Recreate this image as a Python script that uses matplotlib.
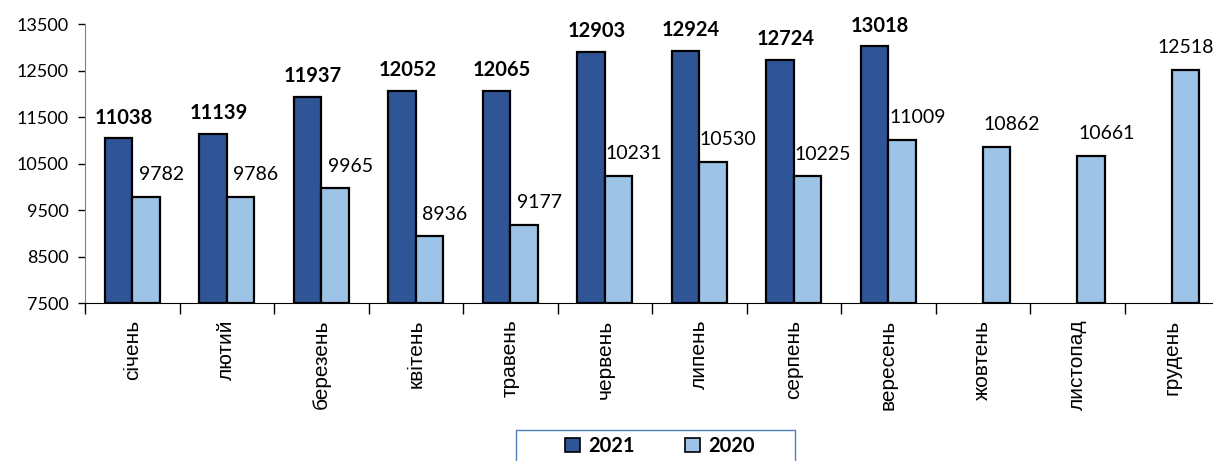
import numpy as np
import matplotlib.pyplot as plt
from matplotlib.patches import Patch, Rectangle

months = ["січень", "лютий", "березень", "квітень", "травень", "червень",
          "липень", "серпень", "вересень", "жовтень", "листопад", "грудень"]
v2021 = [11038, 11139, 11937, 12052, 12065, 12903, 12924, 12724, 13018]
v2020 = [9782, 9786, 9965, 8936, 9177, 10231, 10530, 10225, 11009, 10862, 10661, 12518]

dark = "#2F5597"
light = "#9DC3E6"
numfont = "Lato"

fig = plt.figure(figsize=(12.13, 4.61), dpi=100)
ax = fig.add_axes([85 / 1213, 158 / 461, 1134 / 1213, 279 / 461])

x = np.arange(len(months))
w = 0.29
x21 = x[:len(v2021)]
ax.bar(x21 + 0.5 - w / 2, np.array(v2021) - 7500, w, bottom=7500,
       color=dark, edgecolor="black", linewidth=1.6, zorder=3)
ax.bar(x + 0.5 + w / 2, np.array(v2020) - 7500, w, bottom=7500,
       color=light, edgecolor="black", linewidth=1.6, zorder=3)

for xi, v in zip(x21, v2021):
    ax.annotate(str(v), (xi + 0.5 - w / 2, v), xytext=(4, 15), textcoords="offset points",
                ha="center", va="center", fontsize=14.5, fontweight="bold", family=numfont)
for i, (xi, v) in enumerate(zip(x, v2020)):
    dx = 11 if i < len(v2020) - 1 else 0
    ax.annotate(str(v), (xi + 0.5 + w / 2, v), xytext=(dx, 16), textcoords="offset points",
                ha="center", va="center", fontsize=14, family=numfont)

ax.set_xlim(0, 12)
ax.set_ylim(7500, 13500)
ax.set_yticks(np.arange(7500, 13501, 1000))
ax.tick_params(axis="y", labelsize=13, length=5, width=1, direction="out", pad=7)
for lab in ax.get_yticklabels():
    lab.set_family(numfont)

ax.set_xticks(np.arange(0, 13))
ax.set_xticklabels([])
ax.set_xticks(x + 0.5, minor=True)
ax.set_xticklabels(months, minor=True, rotation=90, fontsize=15, family="Liberation Sans")
ax.tick_params(axis="x", which="major", length=8, width=1, direction="out")
ax.tick_params(axis="x", which="minor", length=0, pad=12)

for s in ["top", "right"]:
    ax.spines[s].set_visible(False)
ax.spines["left"].set_color("#808080")
ax.spines["bottom"].set_color("black")

# legend box, cut off by the bottom edge like in the original
fig.patches.append(Rectangle((516 / 1213, -0.05), 279 / 1213, 0.05 + 31 / 461,
                             transform=fig.transFigure, fill=False,
                             edgecolor="#4F81BD", linewidth=1))
handles = [Patch(facecolor=dark, edgecolor="black", linewidth=1.2, label="2021"),
           Patch(facecolor=light, edgecolor="black", linewidth=1.2, label="2020")]
fig.legend(handles=handles, loc="center", bbox_to_anchor=(660 / 1213, 1 - 446 / 461),
           ncol=2, frameon=False,
           prop={"family": numfont, "weight": "bold", "size": 14.5},
           handlelength=0.75, handleheight=0.75, handletextpad=0.4,
           columnspacing=2.5, borderpad=0, borderaxespad=0)

fig.savefig("out.png", dpi=100)
